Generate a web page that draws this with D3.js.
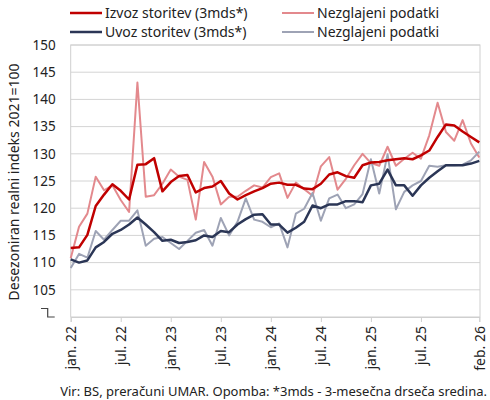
<!DOCTYPE html>
<html>
<head>
<meta charset="utf-8">
<script src="https://cdn.jsdelivr.net/npm/d3@7"></script>
<style>
  body { margin: 0; background: #fff; }
  svg text { font-family: "Noto Sans", sans-serif; fill: #222; }
</style>
</head>
<body>
<div id="chart"></div>
<script>
// months jan. 2022 ... feb. 2026
const months = d3.range(50).map(i => new Date(2022, i, 1));

const izvozSmooth = [
  112.7, 112.8, 115.1, 120.4, 122.5, 124.4, 123.2, 121.6, 128.0, 128.1, 129.2, 123.1,
  124.8, 125.9, 126.1, 122.9, 123.7, 124.0, 125.0, 122.7, 121.6, 122.4, 123.1, 123.7,
  124.5, 124.7, 124.3, 124.3, 123.6, 123.5, 124.5, 126.2, 126.6, 125.9, 125.6, 127.9,
  128.4, 128.5, 128.8, 129.0, 129.2, 129.0, 129.7, 130.6, 133.1, 135.4, 135.2, 134.1,
  133.1, 132.1
];
const izvozRaw = [
  110.8, 116.6, 119.0, 125.8, 123.3, 124.2, 121.5, 119.3, 143.1, 122.1, 122.4, 124.5,
  127.1, 125.8, 125.2, 117.9, 128.5, 125.8, 120.7, 122.1, 122.1, 123.2, 124.2, 123.8,
  125.7, 126.4, 121.9, 124.7, 123.5, 122.3, 127.7, 129.4, 123.4, 125.4, 127.9, 130.0,
  128.3, 127.8, 131.3, 127.8, 129.1, 130.2, 129.1, 133.4, 139.4, 134.0, 132.4, 136.2,
  131.9, 129.3
];
const uvozSmooth = [
  110.6, 110.0, 110.4, 112.8, 113.8, 115.3, 116.0, 117.0, 118.3, 117.0, 115.6, 114.0,
  114.2, 113.6, 113.8, 114.1, 115.0, 114.7, 115.8, 115.6, 117.0, 118.0, 118.8, 118.9,
  117.0, 117.0, 115.5, 116.4, 117.5, 120.5, 120.0, 120.7, 120.7, 121.3, 121.3, 121.1,
  124.2, 124.5, 127.1, 124.2, 124.2, 122.3, 124.2, 125.6, 126.8, 127.9, 127.9, 127.9,
  128.2, 128.7
];
const uvozRaw = [
  109.0, 111.6, 110.9, 115.8, 114.2, 116.0, 117.7, 117.7, 119.6, 113.1, 114.4, 114.7,
  113.6, 112.5, 114.0, 115.5, 116.0, 113.1, 118.2, 115.0, 117.5, 121.8, 117.9, 117.5,
  116.5, 117.2, 112.8, 119.0, 119.9, 122.8, 117.7, 121.8, 122.5, 120.0, 120.7, 122.6,
  129.0, 122.7, 129.9, 119.8, 123.0, 124.2, 125.0, 127.8, 127.6, 127.9, 127.9, 128.0,
  128.8, 130.4
];

const yTicks = [105, 110, 115, 120, 125, 130, 135, 140, 145, 150];
const xTickIdx = [0, 6, 12, 18, 24, 30, 36, 42, 49];
const monthNames = ["jan.", "feb.", "mar.", "apr.", "maj", "jun.", "jul.", "avg.", "sep.", "okt.", "nov.", "dec."];

const series = [
  { name: "Nezglajeni podatki", values: izvozRaw, color: "#e3898d", width: 2 },
  { name: "Nezglajeni podatki", values: uvozRaw, color: "#9ea3b5", width: 2 },
  { name: "Uvoz storitev (3mds*)", values: uvozSmooth, color: "#2b3656", width: 2.5 },
  { name: "Izvoz storitev (3mds*)", values: izvozSmooth, color: "#c00000", width: 2.5 }
];

const W = 490, H = 400;
const margin = { top: 45, right: 10, bottom: 83, left: 70.7 };
const width = W - margin.left - margin.right;
const height = H - margin.top - margin.bottom;

const svg = d3.select("#chart")
  .append("svg")
  .attr("width", W)
  .attr("height", H);

const g = svg.append("g")
  .attr("transform", `translate(${margin.left},${margin.top})`);

const x = d3.scaleLinear()
  .domain([0, months.length - 1])
  .range([0, width - 0.7]);

const y = d3.scaleLinear()
  .domain([100, 150])
  .range([height, 0]);

// grid
g.selectAll(".grid")
  .data(yTicks)
  .enter().append("line")
  .attr("x1", 0)
  .attr("x2", width)
  .attr("y1", d => y(d))
  .attr("y2", d => y(d))
  .attr("stroke", "#d4d4d4")
  .attr("stroke-width", 1);

// frame
g.append("rect")
  .attr("width", width)
  .attr("height", height)
  .attr("fill", "none")
  .attr("stroke", "#cfcfcf")
  .attr("stroke-width", 1);

// y axis
const yAxis = g.append("g")
  .call(d3.axisLeft(y).tickValues(yTicks).tickSize(0).tickPadding(15));
yAxis.select(".domain").remove();
yAxis.selectAll("text")
  .style("font-size", "13.5px")
  .style("font-family", "Noto Sans, sans-serif")
  .attr("fill", "#222");

// axis break mark at 100
g.append("path")
  .attr("d", `M${-29.7},${height - 8.5} H${-23} V${height} H${-16}`)
  .attr("fill", "none")
  .attr("stroke", "#444")
  .attr("stroke-width", 1.2);

// x axis
const xAxis = g.append("g")
  .attr("transform", `translate(0,${height})`)
  .call(d3.axisBottom(x)
    .tickValues(xTickIdx)
    .tickSize(5)
    .tickFormat(i => {
      const d = months[i];
      return monthNames[d.getMonth()] + " " + String(d.getFullYear()).slice(2);
    }));
xAxis.select(".domain").attr("stroke", "#cfcfcf");
xAxis.selectAll(".tick line").attr("stroke", "#cfcfcf");
xAxis.selectAll("text")
  .style("font-size", "14px")
  .style("font-family", "Noto Sans, sans-serif")
  .attr("fill", "#222")
  .attr("transform", "rotate(-90)")
  .attr("text-anchor", "end")
  .attr("x", -9)
  .attr("y", 0)
  .attr("dy", "0.35em");

// lines
const line = d3.line()
  .x((d, i) => x(i))
  .y(d => y(d));

g.selectAll(".series")
  .data(series)
  .enter().append("path")
  .attr("class", "series")
  .attr("d", d => line(d.values))
  .attr("fill", "none")
  .attr("stroke", d => d.color)
  .attr("stroke-width", d => d.width)
  .attr("stroke-linejoin", "round");

// y title
svg.append("text")
  .attr("transform", "translate(19,182) rotate(-90)")
  .attr("text-anchor", "middle")
  .style("font-size", "14px")
  .text("Desezoniran realni indeks 2021=100");

// legend
const legendItems = [
  { s: series[3], x: 70, y: 13 },
  { s: series[0], x: 282, y: 13 },
  { s: series[2], x: 70, y: 32 },
  { s: series[1], x: 282, y: 32 }
];
const legend = svg.selectAll(".legend")
  .data(legendItems)
  .enter().append("g")
  .attr("transform", d => `translate(${d.x},${d.y})`);
legend.append("line")
  .attr("x1", 0)
  .attr("x2", 32)
  .attr("stroke", d => d.s.color)
  .attr("stroke-width", d => d.s.width);
legend.append("text")
  .attr("x", 35)
  .attr("dy", "0.35em")
  .style("font-size", "14px")
  .text(d => d.s.name);

// footnote
svg.append("text")
  .attr("x", 487)
  .attr("y", 391)
  .attr("dy", "0.35em")
  .attr("text-anchor", "end")
  .style("font-size", "13px")
  .text("Vir: BS, preračuni UMAR. Opomba: *3mds - 3-mesečna drseča sredina.");
</script>
</body>
</html>
